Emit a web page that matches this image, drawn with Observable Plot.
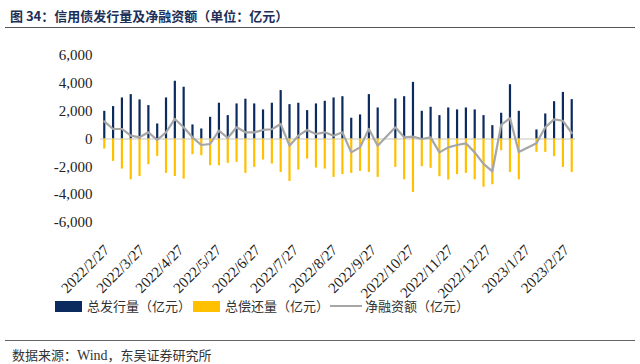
<!DOCTYPE html>
<html>
<head>
<meta charset="utf-8">
<script src="https://cdn.jsdelivr.net/npm/d3@7"></script>
<script src="https://cdn.jsdelivr.net/npm/@observablehq/plot@0.6"></script>
<style>
  html, body { margin: 0; padding: 0; background: #fff; }
  #page { position: relative; width: 640px; height: 364px; overflow: hidden; background: #fff; }
  .abs { position: absolute; }
  #title { left: 10px; top: 6px; font: bold 13px "Noto Sans CJK SC", sans-serif; color: #1b2f57; white-space: nowrap; }
  .rule { left: 5px; width: 630px; height: 1px; background: #555; }
  .leg { top: 298px; font: 13px "Noto Sans CJK SC", sans-serif; color: #333; white-space: nowrap; line-height: 16px; }
  #source { left: 12px; top: 345px; font: 13px "Noto Sans CJK SC", sans-serif; color: #333; white-space: nowrap; }
  #chart { left: 0; top: 28px; }
</style>
</head>
<body>
<div id="page">
  <div id="title" class="abs">图 34：信用债发行量及净融资额（单位：亿元）</div>
  <div id="chart" class="abs"></div>
  <div class="abs rule" style="top:27px"></div>
  <div class="abs" style="left:55px; top:301px; width:27px; height:11px; background:#0b2a5e"></div>
  <div class="abs leg" style="left:87px">总发行量（亿元）</div>
  <div class="abs" style="left:193px; top:301px; width:27px; height:11px; background:#ffc000"></div>
  <div class="abs leg" style="left:225px">总偿还量（亿元）</div>
  <div class="abs" style="left:330px; top:305px; width:32px; height:2px; background:#a6a6a6"></div>
  <div class="abs leg" style="left:365px">净融资额（亿元）</div>
  <div class="abs rule" style="top:340px; background:#666"></div>
  <div id="source" class="abs">数据来源：<span style="font-family:'Liberation Serif',serif;font-size:14px">Wind</span>，东吴证券研究所</div>
</div>
<script>
// weekly dates (Fridays); holiday weeks 2022-10-07 and 2023-01-27 have no data
const dates = [
  "2022-02-25","2022-03-04","2022-03-11","2022-03-18","2022-03-25","2022-04-01","2022-04-08","2022-04-15",
  "2022-04-22","2022-04-29","2022-05-06","2022-05-13","2022-05-20","2022-05-27","2022-06-03","2022-06-10",
  "2022-06-17","2022-06-24","2022-07-01","2022-07-08","2022-07-15","2022-07-22","2022-07-29","2022-08-05",
  "2022-08-12","2022-08-19","2022-08-26","2022-09-02","2022-09-09","2022-09-16","2022-09-23","2022-09-30",
  "2022-10-14","2022-10-21","2022-10-28","2022-11-04","2022-11-11","2022-11-18","2022-11-25","2022-12-02",
  "2022-12-09","2022-12-16","2022-12-23","2022-12-30","2023-01-06","2023-01-13","2023-01-20",
  "2023-02-03","2023-02-10","2023-02-17","2023-02-24","2023-03-03"
];
// 总发行量（亿元）
const issuance = [
  1990,2330,2950,3190,2810,2400,1080,2950,4150,3720,1010,720,1560,2570,1680,2520,
  2860,2520,2090,2570,3480,2470,2570,2040,2520,2710,2950,3040,1490,1730,3190,2230,
  2880,3040,4070,1990,2280,1680,2230,2090,2230,2090,1680,960,1850,3900,1990,
  650,1800,2680,3350,2830
];
// 总偿还量（亿元）
const repayment = [
  -720,-1610,-2160,-2930,-2690,-1850,-1250,-2470,-2690,-2880,-1130,-1200,-1920,-1920,-1750,-1680,
  -2470,-2040,-1510,-1800,-2400,-3050,-2230,-1440,-2090,-2160,-2760,-2560,-2470,-2330,-2400,-2760,
  -2040,-2930,-3840,-1990,-2110,-2710,-2950,-2560,-2470,-2930,-3470,-3290,-840,-2400,-2930,
  -960,-960,-1270,-2040,-2400
];
// 净融资额（亿元）
const netFinancing = [
  1270,720,720,240,120,480,-70,480,1440,840,120,-430,-360,600,70,840,
  480,480,650,700,1080,-480,240,650,360,480,240,480,-960,-600,720,-480,
  840,120,170,0,120,-960,-600,-430,-310,-960,-1790,-2330,1010,1500,-940,
  -310,840,1410,1310,430
];
const tickLabels = ["2022/2/27","2022/3/27","2022/4/27","2022/5/27","2022/6/27","2022/7/27","2022/8/27",
  "2022/9/27","2022/10/27","2022/11/27","2022/12/27","2023/1/27","2023/2/27"];
const yTicks = [-6000,-4000,-2000,0,2000,4000,6000];

const data = dates.map((d, i) => ({
  date: new Date(d + "T00:00:00Z"),
  issue: issuance[i], repay: repayment[i], net: netFinancing[i]
}));
const tickDates = tickLabels.map(s => {
  const [y, m, d] = s.split("/").map(Number);
  return new Date(Date.UTC(y, m - 1, d));
});
const labelOf = new Map(tickDates.map((d, i) => [+d, tickLabels[i]]));
const fmtY = v => (v < 0 ? "-" : "") + d3.format(",")(Math.abs(v));

const chart = Plot.plot({
  width: 640,
  height: 268,
  marginTop: 27,
  marginBottom: 74,
  marginLeft: 100,
  marginRight: 65,
  style: { fontFamily: "'Liberation Serif', 'Times New Roman', serif", fontSize: "15px", color: "#222", background: "transparent", overflow: "visible" },
  x: { type: "utc", domain: [new Date("2022-02-22T00:00:00Z"), new Date("2023-03-06T00:00:00Z")] },
  y: { domain: [-6000, 6000] },
  marks: [
    Plot.ruleY([0], { stroke: "#d9d9d9", strokeWidth: 1.5 }),
    Plot.ruleX(data, { x: "date", y1: 0, y2: "issue", stroke: "#0b2a5e", strokeWidth: 2.2 }),
    Plot.ruleX(data, { x: "date", y1: 0, y2: "repay", stroke: "#ffc000", strokeWidth: 2.2 }),
    Plot.line(data, { x: "date", y: "net", stroke: "#a6a6a6", strokeWidth: 2.2 }),
    Plot.axisY({ ticks: yTicks, tickSize: 0, tickPadding: 8, tickFormat: fmtY, label: null }),
    Plot.axisX({ ticks: tickDates, tickSize: 0, tickPadding: 25, tickRotate: -45, tickFormat: d => labelOf.get(+d), label: null })
  ]
});
document.getElementById("chart").appendChild(chart);
</script>
</body>
</html>
